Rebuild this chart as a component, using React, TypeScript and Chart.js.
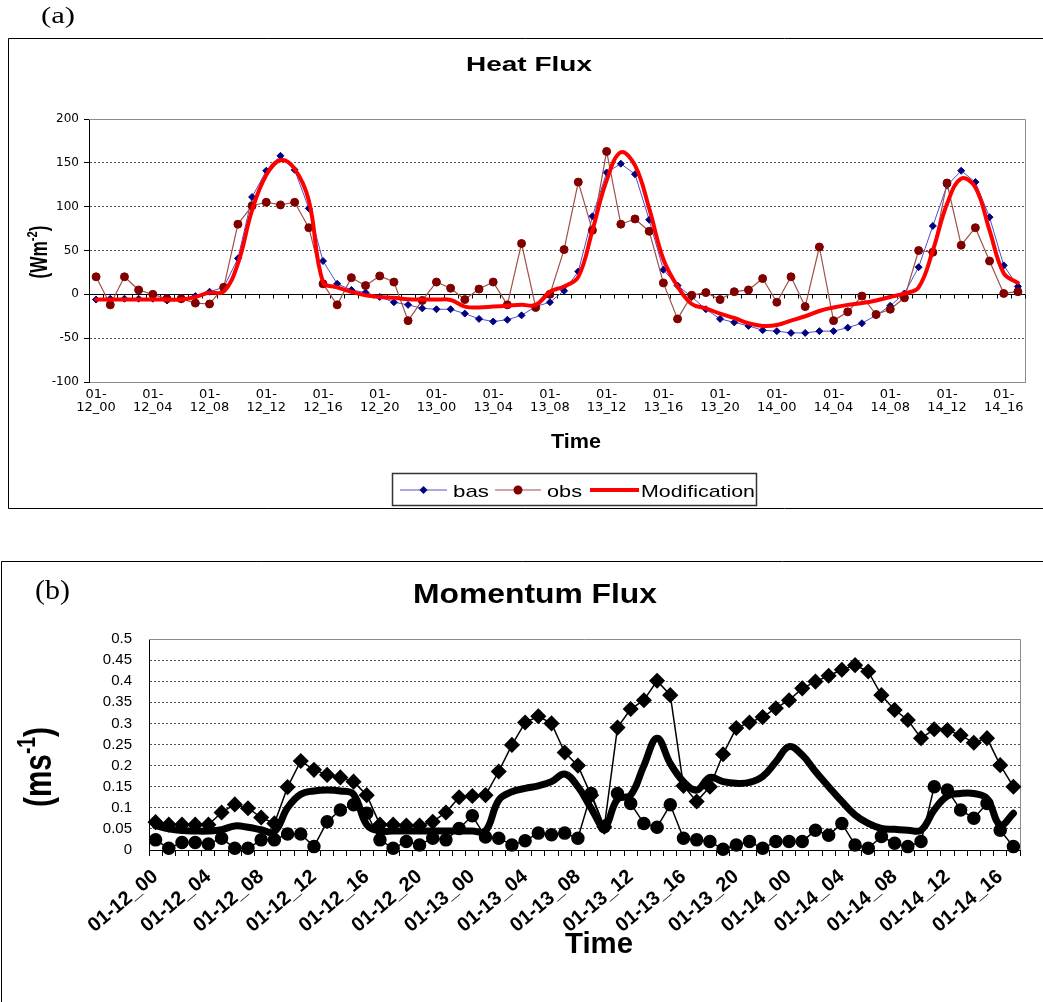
import React, { useEffect, useRef } from 'react';
import { Chart, registerables } from 'chart.js';

Chart.register(...registerables);

// ---------- categories (hourly, 01-12_00 .. 01-14_17) ----------
const timeLabels: string[] = [
  '01-12_00', '01-12_01', '01-12_02', '01-12_03', '01-12_04', '01-12_05', '01-12_06', '01-12_07',
  '01-12_08', '01-12_09', '01-12_10', '01-12_11', '01-12_12', '01-12_13', '01-12_14', '01-12_15',
  '01-12_16', '01-12_17', '01-12_18', '01-12_19', '01-12_20', '01-12_21', '01-12_22', '01-12_23',
  '01-13_00', '01-13_01', '01-13_02', '01-13_03', '01-13_04', '01-13_05', '01-13_06', '01-13_07',
  '01-13_08', '01-13_09', '01-13_10', '01-13_11', '01-13_12', '01-13_13', '01-13_14', '01-13_15',
  '01-13_16', '01-13_17', '01-13_18', '01-13_19', '01-13_20', '01-13_21', '01-13_22', '01-13_23',
  '01-14_00', '01-14_01', '01-14_02', '01-14_03', '01-14_04', '01-14_05', '01-14_06', '01-14_07',
  '01-14_08', '01-14_09', '01-14_10', '01-14_11', '01-14_12', '01-14_13', '01-14_14', '01-14_15',
  '01-14_16', '01-14_17',
];
const labelEvery = 4;

// ---------- (a) Heat Flux (W m-2) ----------
const heatBas: number[] = [
  -6, -5, -5, -5, -5, -7, -6, -2, 3, 8,
  41, 111, 141, 158, 142, 98, 38, 12, 5, 2,
  -3, -9, -12, -16, -17, -17, -22, -28, -31, -29,
  -24, -14, -9, 4, 26, 89, 139, 149, 137, 85,
  28, 10, -3, -17, -28, -32, -36, -41, -42, -44,
  -44, -42, -42, -38, -33, -24, -13, 1, 31, 78,
  124, 141, 128, 88, 33, 9,
];
const heatObs: number[] = [
  20, -12, 20, 5, 0, -5, -5, -10, -11, 8,
  80, 101, 105, 102, 105, 76, 12, -12, 19, 10,
  21, 14, -30, -7, 14, 7, -6, 6, 14, -12,
  58, -15, 0, 51, 128, 73, 163, 80, 86, 72,
  13, -28, -1, 2, -6, 3, 5, 18, -9, 20,
  -14, 54, -30, -20, -2, -23, -17, -4, 50, 48,
  127, 56, 76, 38, 1, 3,
];
const heatMod: number[] = [
  -6, -6, -6, -6, -6, -6, -6, -3, 2, 3,
  35, 96, 136, 153, 143, 107, 14, 8, 3, -1,
  -3, -4, -5.5, -6, -6, -6.5, -14, -15, -14, -13,
  -12, -12, 3, 9, 20, 73, 130, 162, 147, 98,
  40, 9, -11, -16, -22, -27, -33, -36, -35, -30,
  -25, -19, -15, -12, -10, -7, -3, 1, 8, 50,
  103, 132, 122, 73, 24, 13,
];
const heatSeriesNames = ['bas', 'obs', 'Modification'];
const heatYMin = -100;
const heatYMax = 200;
const heatYStep = 50;

// ---------- (b) Momentum Flux (m s-1) ----------
const momBas: number[] = [
  0.066, 0.06, 0.06, 0.06, 0.06, 0.089, 0.108, 0.099, 0.077, 0.063,
  0.149, 0.211, 0.19, 0.178, 0.172, 0.162, 0.13, 0.06, 0.06, 0.058,
  0.058, 0.067, 0.089, 0.125, 0.128, 0.13, 0.186, 0.249, 0.302, 0.317,
  0.3, 0.231, 0.2, 0.13, 0.055, 0.29, 0.334, 0.355, 0.401, 0.367,
  0.152, 0.115, 0.15, 0.227, 0.289, 0.302, 0.315, 0.336, 0.355, 0.383,
  0.399, 0.413, 0.427, 0.438, 0.423, 0.367, 0.332, 0.308, 0.265, 0.286,
  0.284, 0.272, 0.254, 0.265, 0.201, 0.15,
];
const momObs: number[] = [
  0.024, 0.004, 0.018, 0.018, 0.014, 0.028, 0.004, 0.004, 0.024, 0.024,
  0.038, 0.038, 0.008, 0.067, 0.095, 0.107, 0.087, 0.024, 0.004, 0.02,
  0.012, 0.028, 0.024, 0.051, 0.081, 0.031, 0.028, 0.012, 0.022, 0.04,
  0.036, 0.04, 0.028, 0.134, 0.055, 0.134, 0.11, 0.063, 0.054, 0.107,
  0.028, 0.024, 0.02, 0.002, 0.012, 0.02, 0.004, 0.02, 0.02, 0.02,
  0.047, 0.035, 0.063, 0.012, 0.004, 0.032, 0.016, 0.008, 0.02, 0.15,
  0.142, 0.095, 0.075, 0.11, 0.047, 0.008,
];
const momMod: number[] = [
  0.058, 0.05, 0.046, 0.045, 0.045, 0.048, 0.057, 0.054, 0.048, 0.043,
  0.1, 0.132, 0.14, 0.142, 0.14, 0.132, 0.06, 0.045, 0.045, 0.045,
  0.045, 0.045, 0.045, 0.045, 0.045, 0.045, 0.118, 0.138, 0.146, 0.152,
  0.162, 0.18, 0.15, 0.099, 0.055, 0.12, 0.13, 0.2, 0.265, 0.205,
  0.162, 0.142, 0.172, 0.162, 0.158, 0.16, 0.174, 0.209, 0.245, 0.225,
  0.186, 0.15, 0.115, 0.083, 0.063, 0.051, 0.049, 0.047, 0.047, 0.095,
  0.128, 0.134, 0.134, 0.122, 0.059, 0.087,
];
const momYMin = 0;
const momYMax = 0.5;
const momYStep = 0.05;

// ---------- helpers ----------
type Ctx = CanvasRenderingContext2D;

function fitText(ctx: Ctx, text: string, x: number, y: number, font: string, width: number | null, align: CanvasTextAlign) {
  ctx.save();
  ctx.font = font;
  ctx.fillStyle = '#000';
  ctx.textBaseline = 'alphabetic';
  ctx.textAlign = align;
  const w = ctx.measureText(text).width;
  const s = width ? width / w : 1;
  ctx.translate(x, y);
  ctx.scale(s, 1);
  ctx.fillText(text, 0, 0);
  ctx.restore();
}

function rotatedUnit(ctx: Ctx, cx: number, cy: number, main: string, sup: string, tail: string,
  size: number, length: number, thick: number, family: string) {
  ctx.save();
  const supSize = size * 0.65;
  const fMain = `bold ${size}px ${family}`;
  const fSup = `bold ${supSize}px ${family}`;
  ctx.font = fMain;
  const w1 = ctx.measureText(main).width;
  const w3 = ctx.measureText(tail).width;
  ctx.font = fSup;
  const w2 = ctx.measureText(sup).width;
  const total = w1 + w2 + w3;
  const s = length / total;
  ctx.translate(cx, cy);
  ctx.rotate(-Math.PI / 2);
  ctx.scale(s, thick);
  ctx.textBaseline = 'alphabetic';
  ctx.textAlign = 'left';
  ctx.fillStyle = '#000';
  const base = size * 0.36;
  let x = -total / 2;
  ctx.font = fMain; ctx.fillText(main, x, base); x += w1;
  ctx.font = fSup; ctx.fillText(sup, x, base - size * 0.42); x += w2;
  ctx.font = fMain; ctx.fillText(tail, x, base);
  ctx.restore();
}

function line(ctx: Ctx, pts: number[][], color: string, width: number) {
  ctx.save();
  ctx.strokeStyle = color;
  ctx.lineWidth = width;
  ctx.beginPath();
  pts.forEach((p, i) => (i === 0 ? ctx.moveTo(p[0], p[1]) : ctx.lineTo(p[0], p[1])));
  ctx.stroke();
  ctx.restore();
}

function plotBorder(chart: any) {
  const { ctx, chartArea: ca } = chart;
  line(ctx, [[ca.left, ca.top + 0.5], [ca.right + 0.5, ca.top + 0.5], [ca.right + 0.5, ca.bottom]], '#8c8c8c', 1);
}

// ---------- panel (a) plugin ----------
const heatDecor = {
  id: 'heatDecor',
  beforeDatasetsDraw(chart: any) {
    const { ctx, chartArea: ca, scales } = chart;
    plotBorder(chart);
    const y0 = Math.round(scales.y.getPixelForValue(0)) + 0.5;
    ctx.save();
    ctx.strokeStyle = '#000';
    ctx.lineWidth = 1;
    ctx.beginPath();
    ctx.moveTo(ca.left, y0);
    ctx.lineTo(ca.right, y0);
    for (let i = 0; i <= timeLabels.length; i++) {
      const px = Math.round(scales.x.getPixelForValue(i - 0.5)) + 0.5;
      ctx.moveTo(px, y0);
      ctx.lineTo(px, y0 + 4);
    }
    ctx.stroke();
    ctx.restore();
  },
  afterDraw(chart: any) {
    const { ctx } = chart;
    // frame of panel
    line(ctx, [[1043, 38.5], [8.5, 38.5], [8.5, 508.5], [1043, 508.5]], '#000', 1);
    fitText(ctx, '(a)', 41, 23, '23px "Liberation Serif", serif', 34, 'left');
    fitText(ctx, 'Heat Flux', 529, 70.5, 'bold 21px "Liberation Sans", Arial, sans-serif', 126, 'center');
    fitText(ctx, 'Time', 576, 448, 'bold 19.5px "Liberation Sans", Arial, sans-serif', 50, 'center');
    rotatedUnit(ctx, 38, 252, '(Wm', '-2', ')', 17, 53, 1.4, '"Liberation Sans", Arial, sans-serif');

    // legend
    ctx.save();
    ctx.strokeStyle = '#333';
    ctx.lineWidth = 1.5;
    ctx.strokeRect(392.5, 473.5, 364, 32);
    ctx.restore();
    const ds = chart.data.datasets;
    const ly = 490;
    const items = [
      { d: ds[0], x0: 400, x1: 447, tx: 453, tw: 36 },
      { d: ds[1], x0: 495, x1: 541, tx: 547, tw: 35 },
      { d: ds[2], x0: 590, x1: 639, tx: 641, tw: 114 },
    ];
    items.forEach((it) => {
      line(ctx, [[it.x0, ly], [it.x1, ly]], it.d.borderColor, it.d.borderWidth);
      const mx = (it.x0 + it.x1) / 2;
      const r = it.d.pointRadius;
      if (r > 0) {
        ctx.save();
        ctx.fillStyle = it.d.pointBackgroundColor;
        ctx.beginPath();
        if (it.d.pointStyle === 'rectRot') {
          ctx.moveTo(mx, ly - r - 0.5); ctx.lineTo(mx + r + 0.5, ly); ctx.lineTo(mx, ly + r + 0.5); ctx.lineTo(mx - r - 0.5, ly);
          ctx.closePath();
        } else {
          ctx.arc(mx, ly, r + 0.5, 0, Math.PI * 2);
        }
        ctx.fill();
        ctx.restore();
      }
      fitText(ctx, it.d.label, it.tx, 497, '17px "Liberation Sans", Arial, sans-serif', it.tw, 'left');
    });
  },
};

// ---------- panel (b) plugin ----------
const momDecor = {
  id: 'momDecor',
  beforeDatasetsDraw(chart: any) {
    plotBorder(chart);
  },
  afterDraw(chart: any) {
    const { ctx } = chart;
    line(ctx, [[1.5, 454], [1.5, 13.5], [1043, 13.5]], '#000', 1);
    fitText(ctx, '(b)', 35, 51, '27px "Liberation Serif", serif', 35, 'left');
    fitText(ctx, 'Momentum Flux', 535, 55, 'bold 27px "Liberation Sans", Arial, sans-serif', 244, 'center');
    rotatedUnit(ctx, 37, 219, '(ms', '-1', ')', 28, 80, 1.4, '"Liberation Sans", Arial, sans-serif');
    fitText(ctx, 'Time', 599, 405, 'bold 29px "Liberation Sans", Arial, sans-serif', 68, 'center');
  },
};

const transparent = 'rgba(0,0,0,0)';

function heatConfig(): any {
  return {
    type: 'line',
    data: {
      labels: timeLabels,
      datasets: [
        {
          label: heatSeriesNames[0], data: heatBas, borderColor: '#5050c8', borderWidth: 1,
          pointStyle: 'rectRot', pointRadius: 3.5, pointBackgroundColor: '#000080', pointBorderColor: '#000080',
          pointBorderWidth: 1, tension: 0, order: 2, clip: false,
        },
        {
          label: heatSeriesNames[1], data: heatObs, borderColor: '#a0504a', borderWidth: 1.2,
          pointStyle: 'circle', pointRadius: 4, pointBackgroundColor: '#800000', pointBorderColor: '#800000',
          pointBorderWidth: 1, tension: 0, order: 1, clip: false,
        },
        {
          label: heatSeriesNames[2], data: heatMod, borderColor: '#ff0000', borderWidth: 4,
          pointRadius: 0, tension: 0.4, order: 0, clip: false,
        },
      ],
    },
    options: {
      responsive: false,
      animation: false,
      devicePixelRatio: 1,
      layout: { padding: { left: 0, top: 119, right: 18, bottom: 118 } },
      plugins: { legend: { display: false }, title: { display: false }, tooltip: { enabled: false } },
      elements: { line: { borderJoinStyle: 'round', borderCapStyle: 'round' } },
      scales: {
        x: {
          type: 'category',
          offset: true,
          grid: { display: false, drawTicks: false },
          border: { display: true, color: '#8c8c8c', width: 1 },
          ticks: {
            autoSkip: false, maxRotation: 0, minRotation: 0, padding: 6, color: '#000',
            font: { family: '"DejaVu Sans", sans-serif', size: 13, lineHeight: 1 },
            callback: (_v: any, i: number) => (i % labelEvery === 0 ? ['01-', timeLabels[i].slice(3)] : ''),
          },
          afterFit: (s: any) => { s.height = 40; },
        },
        y: {
          min: heatYMin,
          max: heatYMax,
          ticks: { stepSize: heatYStep, padding: 5, color: '#000', font: { family: '"DejaVu Sans", sans-serif', size: 12 } },
          grid: {
            color: (c: any) => {
              const v = c.tick ? c.tick.value : null;
              return v === 0 || v === heatYMax || v === heatYMin ? transparent : '#555';
            },
            lineWidth: 1, tickColor: '#000', tickLength: 5, drawTicks: true,
          },
          border: { display: true, color: '#000', width: 1, dash: [2, 2] },
          afterFit: (s: any) => { s.width = 89; },
        },
      },
    },
    plugins: [heatDecor],
  };
}

function momConfig(): any {
  return {
    type: 'line',
    data: {
      labels: timeLabels,
      datasets: [
        {
          label: 'bas', data: momBas, borderColor: '#000', borderWidth: 1.5,
          pointStyle: 'rectRot', pointRadius: 7, pointBackgroundColor: '#000', pointBorderColor: '#000',
          tension: 0, clip: false, order: 1,
        },
        {
          label: 'obs', data: momObs, borderColor: '#000', borderWidth: 1.5,
          pointStyle: 'circle', pointRadius: 6, pointBackgroundColor: '#000', pointBorderColor: '#000',
          tension: 0, clip: false, order: 2,
        },
        {
          label: 'Modification', data: momMod, borderColor: '#000', borderWidth: 7,
          pointRadius: 0, tension: 0.4, clip: false, order: 0,
        },
      ],
    },
    options: {
      responsive: false,
      animation: false,
      devicePixelRatio: 1,
      layout: { padding: { left: 0, top: 91, right: 23, bottom: 52 } },
      plugins: { legend: { display: false }, title: { display: false }, tooltip: { enabled: false } },
      elements: { line: { borderJoinStyle: 'round', borderCapStyle: 'round' } },
      scales: {
        x: {
          type: 'category',
          offset: true,
          grid: { display: true, drawOnChartArea: false, drawTicks: true, tickLength: 6, tickColor: '#000', color: '#000', offset: true },
          border: { display: true, color: '#000', width: 1 },
          ticks: {
            autoSkip: false, maxRotation: 40, minRotation: 40, padding: 9, color: '#000',
            font: { family: '"Liberation Sans", Arial, sans-serif', weight: 'bold', size: 20 },
            callback: (_v: any, i: number) => (i % labelEvery === 0 ? timeLabels[i] : ''),
          },
          afterFit: (s: any) => { s.height = 100; },
        },
        y: {
          min: momYMin,
          max: momYMax,
          ticks: {
            stepSize: momYStep, padding: 17, color: '#000',
            font: { family: '"Liberation Sans", Arial, sans-serif', size: 15 },
            callback: (v: any) => String(Number(Number(v).toFixed(2))),
          },
          grid: {
            color: (c: any) => {
              const v = c.tick ? c.tick.value : null;
              return v === null || Math.abs(v - momYMin) < 1e-9 || Math.abs(v - momYMax) < 1e-9 ? transparent : '#555';
            },
            lineWidth: 1, drawTicks: false,
          },
          border: { display: true, color: '#000', width: 1, dash: [2, 2] },
          afterFit: (s: any) => { s.width = 149; },
        },
      },
    },
    plugins: [momDecor],
  };
}

export default function App() {
  const refA = useRef<HTMLCanvasElement>(null);
  const refB = useRef<HTMLCanvasElement>(null);
  useEffect(() => {
    const a = new Chart(refA.current as HTMLCanvasElement, heatConfig());
    const b = new Chart(refB.current as HTMLCanvasElement, momConfig());
    return () => {
      a.destroy();
      b.destroy();
    };
  }, []);
  return (
    <div style={{ position: 'absolute', left: 0, top: 0, width: 1043, height: 1002, overflow: 'hidden', background: '#fff' }}>
      <canvas ref={refA} width={1043} height={540} style={{ position: 'absolute', left: 0, top: 0, width: 1043, height: 540 }} />
      <canvas ref={refB} width={1043} height={454} style={{ position: 'absolute', left: 0, top: 548, width: 1043, height: 454 }} />
    </div>
  );
}
